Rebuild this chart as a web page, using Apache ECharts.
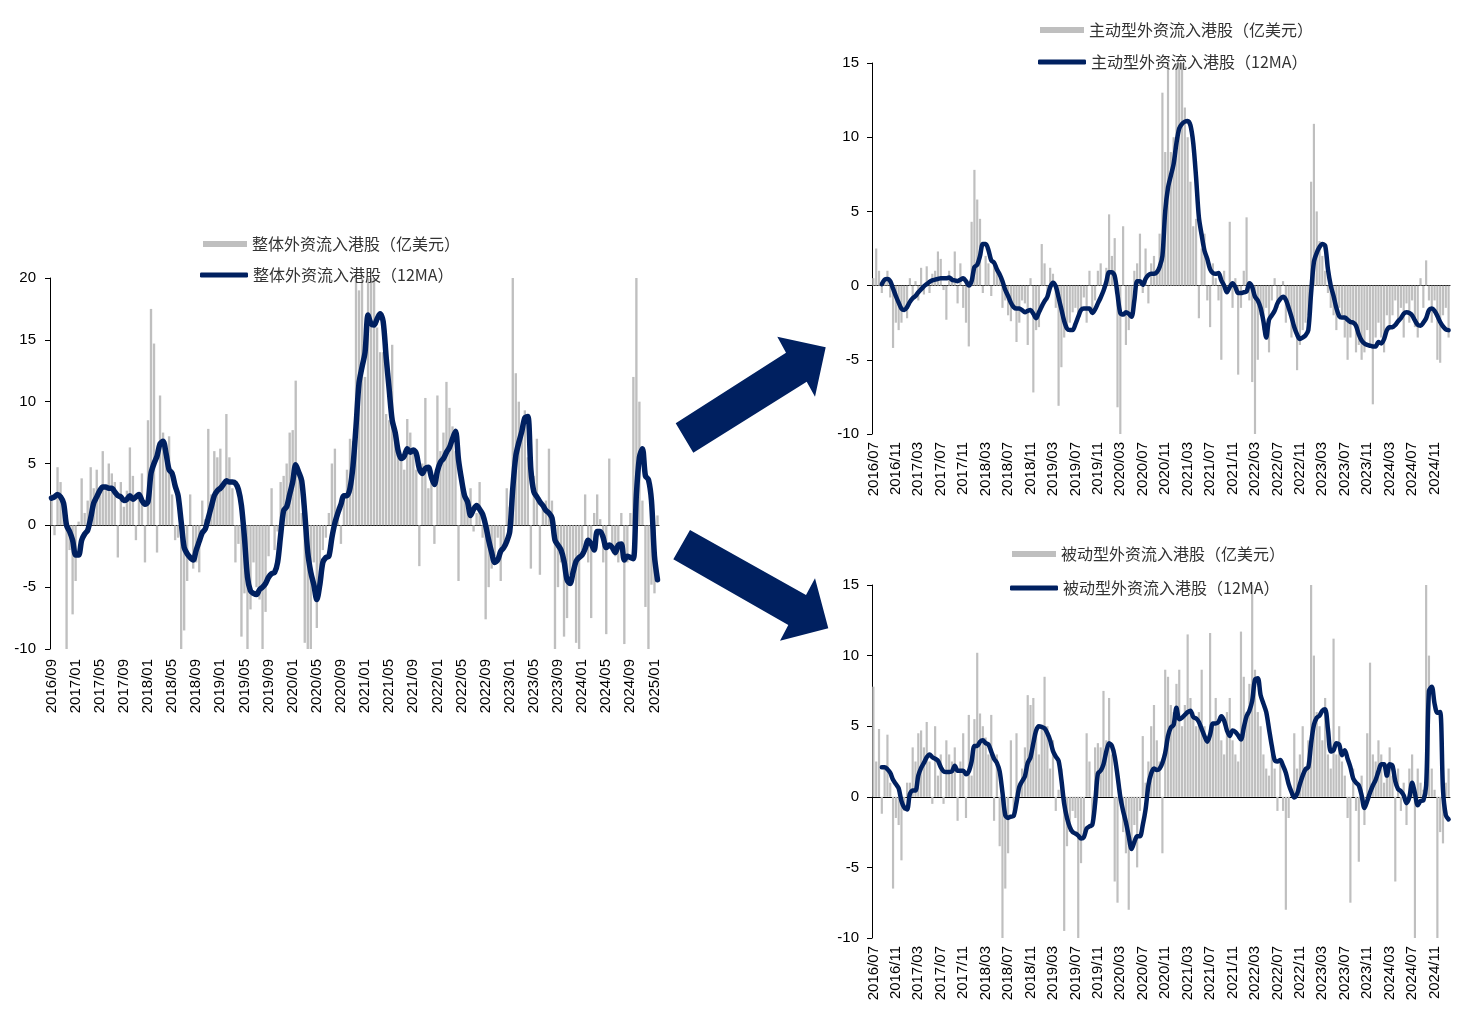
<!DOCTYPE html>
<html>
<head>
<meta charset="utf-8">
<title>外资流入港股</title>
<script src="https://cdn.jsdelivr.net/npm/echarts@6/dist/echarts.min.js"></script>
<style>
html, body { margin: 0; padding: 0; background: #fff; }
#main { width: 1464px; height: 1017px; }
</style>
</head>
<body>
<div id="main"></div>
<script>
// 半月度读数（亿美元），整体从2016/09开始，主动/被动从2016/07开始
var totalBars = [
    2.5, -0.8, 4.7, 3.5, 1.5, -10, -2.0, -7.2, -4.5, 0.3,
    3.8, 1.0, 2.0, 4.7, 3.0, 4.5, 2.5, 6.0, 3.2, 5.0,
    4.2, 3.5, -2.6, 3.5, 1.5, 2.8, 6.3, 4.0, -1.2, 2.5,
    4.2, -3.0, 8.5, 17.5, 14.7, -2.2, 10.5, 7.5, 5.0, 7.2,
    2.5, -1.2, -1.0, -10, -8.5, -4.5, 2.5, -3.5, -3.0, -3.8,
    2.0, 0.5, 7.8, 2.5, 6.0, 5.5, 6.2, 3.5, 9.0, 5.5,
    3.0, -3.0, -1.5, -9.0, -5.5, -10, -6.8, -3.0, -5.0, -6.0,
    -10, -7.0, -2.5, 3.0, -2.0, -0.5, 3.5, 4.0, 5.0, 7.5,
    7.7, 11.7, 4.5, 1.0, -9.5, -10, -10, -3.0, -8.3, -5.0,
    -2.0, -1.0, 1.0, 5.0, 6.2, 1.5, -1.5, 2.5, 4.5, 7.0,
    6.8, 20, 19, 20, 12, 20, 20, 20, 16, 14,
    14, 9, 8.5, 14.6, 8, 6, 5.5, 4.5, 8.6, 7.5,
    6.0, 4.5, -3.3, 5.0, 10.3, 3.0, 4.5, -1.5, 10.5, 6.0,
    7.5, 11.6, 9.5, 8.0, 6.0, -4.5, 4.0, 2.5, 1.5, 3.0,
    -0.5, 1.0, 3.5, -1.0, -7.6, -5.0, -3.5, -2.5, -1.0, -4.5,
    -2.0, 3.0, 1.5, 20, 12.3, 10, 7.5, 9.3, 5.5, -3.5,
    4.0, 7.0, -4.0, 1.5, 2.0, 6.2, 2.0, -10, -5.0, -3.0,
    -9.0, -7.5, -4.0, -3.5, -9.5, -10, -2.0, 2.5, -3.0, -7.5,
    1.0, 2.5, 0.5, -3.0, -8.8, 5.4, -2.0, -2.5, -3.0, 1.0,
    -9.6, -3.0, 1.0, 12, 20, 10, 2.0, -6.6, -10, -4.8,
    -5.5, 0.8
];
var totalMA = [
    2.2, 2.3, 2.5, 2.3, 1.8, 0.0, -0.5, -1.2, -2.4, -2.4,
    -1.2, -0.7, -0.4, 0.6, 1.8, 2.3, 2.8, 3.1, 3.1, 3.0,
    3.0, 2.7, 2.4, 2.3, 2.0, 2.1, 2.4, 2.1, 2.3, 2.5,
    2.0, 1.7, 1.9, 4.2, 5.0, 5.6, 6.6, 6.8, 5.8, 4.5,
    4.2, 3.2, 2.4, 0.3, -1.8, -2.3, -2.6, -2.8, -2.0, -1.3,
    -0.6, -0.3, 0.6, 1.5, 2.4, 2.8, 3.0, 3.3, 3.6, 3.5,
    3.5, 3.4, 2.9, 1.6, -1.0, -4.2, -5.3, -5.5, -5.6, -5.2,
    -5.0, -4.7, -4.2, -3.9, -3.8, -3.0, -0.8, 1.2, 1.5, 2.5,
    3.5, 4.9, 4.3, 3.6, 1.0, -2.2, -3.8, -4.8, -6.0, -4.8,
    -3.0, -2.6, -2.5, -1.0, 0.2, 1.0, 1.7, 2.4, 2.4, 3.0,
    4.8, 8.0, 11.5, 12.8, 14.0, 17.0, 16.3, 16.2, 16.7, 17.1,
    16.5, 13.6, 11.0, 8.5, 7.5, 6.0, 5.4, 5.6, 6.2, 5.9,
    6.1, 5.8, 4.6, 4.2, 4.6, 4.7, 3.9, 3.3, 4.4, 5.1,
    5.4, 5.9, 6.3, 7.0, 7.6, 5.3, 3.7, 2.4, 1.9, 0.8,
    1.3, 1.6, 1.3, 0.9, 0.0, -1.2, -2.2, -3.0, -2.8, -2.1,
    -1.8, -1.3, -0.5, 3.0, 5.6, 6.7, 7.6, 8.7, 8.8, 4.5,
    2.7, 2.3, 1.9, 1.6, 1.2, 1.0, 0.6, -1.2, -1.6, -2.0,
    -2.9, -4.4, -4.7, -3.8, -2.9, -2.6, -2.4, -1.9, -1.2, -1.5,
    -2.0, -0.5, -0.5, -1.0, -1.8, -1.6, -1.8, -2.2, -1.6, -1.5,
    -2.8, -2.5, -2.6, -2.7, 2.5, 5.5, 6.2, 4.0, 3.7, 2.0,
    -2.5, -4.4
];
var activeBars = [
    0.5, 2.5, 1.0, -0.5, 0.5, 1.0, -0.8, -4.2, -2.5, -3.0,
    -2.5, -1.5, -2.2, 0.5, -0.8, 0.3, -1.0, 1.2, -0.6, 1.3,
    -0.5, 0.8, 1.0, 2.3, 1.8, -0.3, -2.3, 1.0, 0.6, 2.3,
    -1.2, 1.5, -1.5, -2.5, -4.1, 4.3, 7.8, 5.8, 4.5, -0.5,
    2.0, 1.5, -0.7, 1.5, 1.0, 0.5, -1.5, -1.0, -2.0, -2.4,
    -1.5, -3.8, -2.5, -1.0, -1.2, -4.0, 0.5, -7.2, -3.0, -2.8,
    2.8, 1.5, -1.0, 1.2, 0.8, -1.5, -8.1, -5.5, -3.5, -3.0,
    -2.5, -1.8, -1.5, -2.0, -1.5, -0.8, -2.5, 1.0, -1.8, -1.0,
    1.0, 1.5, -0.5, 1.2, 4.8, 2.0, 3.2, -8.2, -10, 4.0,
    -4.0, -3.0, -2.0, 1.0, 1.5, 3.5, -0.5, 2.5, -1.2, 1.5,
    2.0, 1.0, 3.5, 13.0, 9.0, 15, 9.0, 10, 15, 15,
    15, 12, 10, 7.0, 4.0, 4.5, -2.2, 2.5, 3.5, -1.0,
    -2.8, 1.5, 0.5, -1.0, -5.0, 1.0, -0.5, 4.3, -1.5, 0.5,
    -6.0, -1.5, 1.0, 4.6, -1.0, -6.5, -10, -5.0, -2.0, -3.0,
    -1.5, -4.5, -1.0, 0.5, -1.5, -1.0, 0.3, -2.5, -1.5, -3.5,
    -2.5, -5.7, -4.0, -3.0, -2.5, -2.0, 7.0, 10.9, 5.0, 3.0,
    2.0, 1.0, -0.5, -1.5, -2.0, -3.0, -1.5, -2.0, -3.5, -5.0,
    -3.5, -2.5, -4.5, -4.0, -5.0, -4.5, -3.0, -4.0, -8.0, -3.5,
    -2.5, -3.5, -4.5, -2.0, -3.0, -2.0, -1.0, -2.5, -1.5, -3.5,
    -1.2, -2.5, -1.0, -2.8, -3.5, 0.5, -1.5, 1.7, -1.0, -2.5,
    -1.0, -5.0, -5.2, -2.0, -1.5, -3.5
];
var activeMA = [
    null, null, null, 0.1, 0.4, 0.45, 0.3, -0.2, -0.7, -1.15,
    -1.55, -1.65, -1.45, -1.1, -0.85, -0.7, -0.45, -0.25, -0.05, 0.1,
    0.25, 0.35, 0.4, 0.45, 0.5, 0.5, 0.5, 0.55, 0.4, 0.35,
    0.3, 0.4, 0.5, 0.3, 0.0, 0.3, 1.25, 1.4, 2.0, 2.8,
    2.8, 2.4, 1.7, 1.55, 1.1, 0.75, 0.3, -0.3, -0.7, -1.15,
    -1.45, -1.55, -1.55, -1.65, -1.8, -1.7, -1.65, -1.9, -2.2, -1.8,
    -1.4, -1.05, -0.75, -0.1, 0.2, -0.05, -0.8, -1.6, -2.4, -2.9,
    -3.0, -3.0, -2.6, -2.1, -1.65, -1.55, -1.55, -1.55, -1.85, -1.6,
    -1.2, -0.8, -0.35, 0.25, 0.9, 0.9, 0.65, -0.6, -1.85, -1.95,
    -1.8, -1.9, -2.1, -1.0, 0.3, 0.3, 0.05, 0.45, 0.7, 0.8,
    0.8, 0.9, 1.25, 2.0, 5.0, 6.6, 7.4, 8.2, 9.6, 10.6,
    10.9, 11.05, 11.1, 10.8, 9.6, 7.3, 4.6, 3.4, 2.35, 1.8,
    1.1, 0.85, 0.8, 0.85, 0.35, 0.0, -0.45, -0.1, 0.15, -0.1,
    -0.5, -0.5, -0.45, -0.4, 0.15, -0.1, -0.75, -1.0, -1.5, -2.4,
    -3.5, -2.3, -2.0, -1.7, -1.2, -0.9, -0.75, -0.95, -1.5, -2.1,
    -2.8, -3.3, -3.6, -3.5, -3.35, -3.0, -0.5, 1.6, 2.2, 2.6,
    2.8, 2.7, 1.1, 0.0, -0.7, -1.5, -2.05, -2.15, -2.15, -2.3,
    -2.45, -2.5, -2.7, -3.3, -3.7, -3.9, -4.0, -4.05, -4.1, -4.1,
    -3.8, -3.9, -3.6, -3.0, -2.8, -2.8, -2.65, -2.4, -2.2, -1.9,
    -1.8, -1.85, -2.0, -2.35, -2.65, -2.7, -2.5, -2.2, -1.65, -1.55,
    -1.7, -2.05, -2.45, -2.75, -2.95, -3.0
];
var passiveBars = [
    7.8, 2.5, 4.8, -1.2, 2.0, 4.4, 1.0, -6.5, -1.5, -2.0,
    -4.5, -1.0, 1.0, 1.0, 3.5, 2.5, 4.5, 4.7, 3.5, 5.3,
    2.5, -0.5, 5.0, 1.5, 3.0, -0.5, 4.0, 3.0, 2.5, 3.5,
    -1.7, 2.5, 4.5, -1.5, 5.8, 1.5, 5.5, 10.2, 5.9, 5.0,
    4.2, 3.0, 5.8, -1.7, 3.0, -3.5, -10, -6.5, -4.0, 4.0,
    -1.5, 4.5, 1.0, 2.0, 3.5, 7.2, 6.5, 7.0, 4.5, 3.0,
    5.0, 8.5, 5.0, 2.0, 4.0, -1.0, 0.5, 2.0, -9.5, -3.5,
    -2.5, -1.0, -1.5, -10, -4.7, -3.0, 4.5, 2.5, -1.5, 3.5,
    3.8, 3.5, 7.5, 4.0, 7.0, 3.0, -6.0, -7.5, 0.5, -2.5,
    -4.0, -8.0, -3.5, -2.0, -5.0, -1.0, 4.3, 1.0, 2.5, 5.0,
    6.5, 4.0, 2.5, -4.0, 9.0, 8.5, 6.5, 6.0, 8.0, 9.0,
    5.0, 6.5, 11.5, 7.0, 6.0, 5.0, 6.0, 9.0, 5.0, 4.0,
    11.6, 5.0, 7.0, 5.5, 4.0, 3.0, 6.0, 7.0, 4.0, 3.0,
    2.5, 11.7, 8.5, 6.0, 8.0, 15, 9.0, 6.0, 5.0, 3.0,
    2.0, 1.5, 3.0, 2.0, -1.0, 2.5, -1.0, -8.0, -1.5, 0.5,
    4.5, 2.0, 3.0, 5.0, 2.0, 4.0, 15, 10.0, 6.0, 5.0,
    4.0, 7.0, 3.0, 2.0, 11.2, 3.0, 5.0, 2.5, 1.5, -1.5,
    -7.5, 2.0, -1.0, -4.6, 1.5, -2.0, 4.5, 9.5, 3.0, 2.5,
    4.0, 3.0, 1.0, 2.0, 3.5, 1.5, -6.0, 2.0, -1.0, 1.0,
    -2.0, 2.0, 3.0, -10, 2.0, 1.0, 0.5, 15, 10.0, 2.0,
    0.5, -10, -2.5, -3.3, 1.0, 2.0
];
var passiveMA = [
    null, null, null, 2.1, 2.1, 1.95, 1.7, 1.2, 0.9, 0.6,
    -0.3, -0.75, -0.9, 0.2, 0.45, 0.45, 1.5, 2.05, 2.4, 2.8,
    3.0, 2.8, 2.7, 2.55, 2.1, 1.8, 1.75, 1.75, 1.8, 2.2,
    1.85, 1.85, 1.85, 1.6, 1.8, 2.5, 3.6, 3.6, 3.9, 4.0,
    3.8, 3.7, 3.2, 2.7, 2.4, 1.8, 0.3, -1.3, -1.5, -1.4,
    -1.35, -0.4, 0.7, 1.1, 1.45, 2.4, 2.8, 3.8, 4.7, 5.0,
    4.95, 4.85, 4.5, 4.0, 3.25, 2.85, 2.55, 1.2, -0.5, -1.5,
    -2.15, -2.5, -2.6, -2.75, -2.95, -2.85, -2.25, -2.1, -2.0, -0.5,
    1.65, 1.85, 2.3, 3.2, 3.8, 3.6, 2.85, 1.5, 0.0, -1.0,
    -1.8, -2.8, -3.7, -3.2, -2.8, -2.8, -2.0, -0.9, 0.8, 1.65,
    2.0, 1.9, 2.0, 2.4, 3.1, 4.3, 4.9, 5.1, 6.3, 5.5,
    5.6, 5.8, 6.0, 6.1, 5.65, 5.55, 5.3, 4.8, 4.3, 3.9,
    4.4, 5.2, 5.2, 5.3, 5.7, 5.4, 4.7, 4.3, 4.7, 4.6,
    4.35, 4.05, 4.9, 5.7, 6.1, 6.8, 8.3, 8.4, 7.2, 6.6,
    6.0, 4.8, 3.6, 2.6, 2.5, 2.6, 2.2, 1.7, 0.9, 0.35,
    -0.05, 0.2, 0.9, 1.5, 1.95, 2.1, 3.8, 5.1, 5.6, 5.75,
    6.1, 6.2, 4.8, 3.2, 3.3, 3.8, 3.7, 2.95, 3.3, 2.7,
    2.1, 1.3, 1.0, 0.8, 0.1, -0.8, -0.3, 0.3, 0.8, 1.2,
    1.8, 2.3, 2.3, 1.5, 2.3, 2.2, 1.1, 0.55, 0.4, 0.1,
    -0.45, -0.05, 1.0, 0.25, -0.6, -0.3, -0.25, 0.8, 7.5, 7.8,
    6.6, 5.95, 6.0, 0.5, -1.3, -1.6
];

// 半月类目，标签只显示年月
function halfMonths(year, month, count) {
    var out = [];
    for (var i = 0; i < count; i++) {
        var m = month - 1 + Math.floor(i / 2);
        var y = year + Math.floor(m / 12);
        m = m % 12 + 1;
        out.push(y + '/' + (m < 10 ? '0' + m : m) + (i % 2 ? '下' : '上'));
    }
    return out;
}
var totalDates = halfMonths(2016, 9, totalBars.length);
var rightDates = halfMonths(2016, 7, activeBars.length);

var NAVY = '#002060';
var GREY = '#bfbfbf';
var NUM_FONT = '"Liberation Sans", Arial, sans-serif';
var CJK_FONT = '"Noto Sans CJK SC", sans-serif';

function zeroAxis(g, dates) {
    return {
        type: 'category', gridIndex: g, data: dates, position: 'bottom',
        axisLine: {onZero: true, lineStyle: {color: '#000', width: 1}},
        axisTick: {interval: 7, alignWithLabel: true, length: 4, lineStyle: {color: '#000'}},
        axisLabel: {show: false},
        splitLine: {show: false}
    };
}
function labelAxis(g, dates, margin) {
    return {
        type: 'category', gridIndex: g, data: dates, position: 'bottom',
        axisLine: {show: false, onZero: false},
        axisTick: {show: false},
        axisLabel: {
            interval: 7, rotate: 90, margin: margin,
            fontSize: 15, color: '#000', fontFamily: NUM_FONT,
            formatter: function (v) { return v.slice(0, 7); }
        },
        splitLine: {show: false}
    };
}
function valueAxis(g, min, max, margin) {
    return {
        type: 'value', gridIndex: g, min: min, max: max, interval: 5,
        axisLine: {show: true, onZero: false, lineStyle: {color: '#000', width: 1}},
        axisTick: {show: true, length: 5, lineStyle: {color: '#000'}},
        axisLabel: {margin: margin, fontSize: 15, color: '#000', fontFamily: NUM_FONT},
        splitLine: {show: false}
    };
}
function barSeries(name, g, data) {
    return {
        name: name, type: 'bar', xAxisIndex: g * 2, yAxisIndex: g,
        data: data, barCategoryGap: '22%',
        itemStyle: {color: GREY}, z: 2
    };
}
function lineSeries(name, g, data, width) {
    return {
        name: name, type: 'line', xAxisIndex: g * 2, yAxisIndex: g,
        data: data, symbol: 'none', smooth: 0.3,
        lineStyle: {color: NAVY, width: width, cap: 'round', join: 'round'},
        itemStyle: {color: NAVY}, z: 3
    };
}
function legendRow(name, left, top, isLine) {
    return {
        left: left, top: top, padding: 0, selectedMode: false,
        itemWidth: isLine ? 48 : 44, itemHeight: isLine ? 5 : 6,
        data: [{name: name, icon: isLine ? 'roundRect' : 'rect'}],
        textStyle: {fontSize: 16, color: '#333', fontFamily: CJK_FONT}
    };
}

var names = {
    tb: '整体外资流入港股（亿美元）', tl: '整体外资流入港股（12MA）',
    ab: '主动型外资流入港股（亿美元）', al: '主动型外资流入港股（12MA）',
    pb: '被动型外资流入港股（亿美元）', pl: '被动型外资流入港股（12MA）'
};

var myChart = echarts.init(document.getElementById('main'));
var option = {
    animation: false,
    backgroundColor: '#fff',
    grid: [
        {left: 50, top: 278, width: 609, height: 371},
        {left: 872, top: 63, width: 578, height: 371},
        {left: 872, top: 585, width: 578, height: 353}
    ],
    xAxis: [
        zeroAxis(0, totalDates), labelAxis(0, totalDates, 10),
        zeroAxis(1, rightDates), labelAxis(1, rightDates, 8),
        zeroAxis(2, rightDates), labelAxis(2, rightDates, 8)
    ],
    yAxis: [
        valueAxis(0, -10, 20, 14),
        valueAxis(1, -10, 15, 13),
        valueAxis(2, -10, 15, 13)
    ],
    legend: [
        legendRow(names.tb, 203, 236, false),
        legendRow(names.tl, 200, 267, true),
        legendRow(names.ab, 1040, 22, false),
        legendRow(names.al, 1038, 54, true),
        legendRow(names.pb, 1012, 546, false),
        legendRow(names.pl, 1010, 580, true)
    ],
    series: [
        barSeries(names.tb, 0, totalBars), lineSeries(names.tl, 0, totalMA, 5.5),
        barSeries(names.ab, 1, activeBars), lineSeries(names.al, 1, activeMA, 4.5),
        barSeries(names.pb, 2, passiveBars), lineSeries(names.pl, 2, passiveMA, 4.5)
    ],
    // 左图指向右侧两图的箭头
    graphic: [
        {
            type: 'polygon', z: 10,
            shape: {points: [[675.7, 423.3], [786, 352.7], [777.3, 336.7], [825.7, 347.3], [815, 396.7], [806.7, 381.7], [693.3, 452.7]]},
            style: {fill: NAVY}
        },
        {
            type: 'polygon', z: 10,
            shape: {points: [[690, 530], [806, 595], [815, 578.3], [828.3, 628.3], [780, 640.7], [788.3, 625], [673.3, 559.3]]},
            style: {fill: NAVY}
        }
    ]
};
myChart.setOption(option);
</script>
</body>
</html>
